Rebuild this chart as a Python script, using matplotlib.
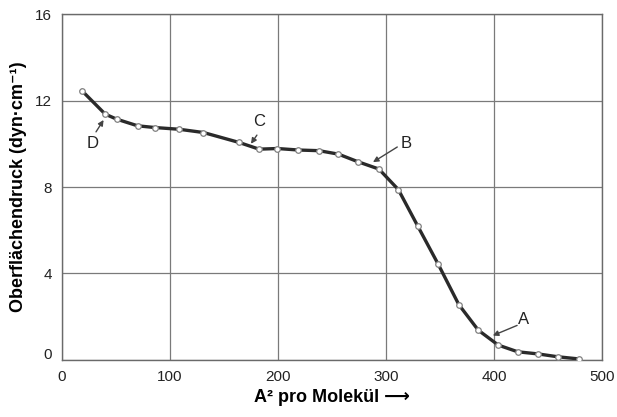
import matplotlib
matplotlib.use("Agg")
import matplotlib.pyplot as plt
import matplotlib.transforms as mtransforms

plt.rcParams['font.family'] = ['Liberation Sans', 'DejaVu Sans']

# Messpunkte
flaeche = [18.5, 40, 50.5, 70, 86, 108.5, 131, 164, 182.5, 199.5, 219, 238, 256,
           274, 293.5, 311.5, 329.5, 348.5, 367.5, 385.5, 404, 422, 441, 459, 478.5]
druck = [12.45, 11.37, 11.14, 10.83, 10.75, 10.67, 10.52, 10.06, 9.75, 9.78, 9.71,
         9.68, 9.52, 9.17, 8.83, 7.88, 6.19, 4.42, 2.56, 1.38, 0.69, 0.38, 0.28,
         0.15, 0.05]

# Markierungen A-D: Text, Pfeilanfang, Pfeilspitze
marken = ['D', 'C', 'B', 'A']
text_xy = [(28.5, 10.0), (183, 11.05), (319, 10.0), (427, 1.85)]
anfang_xy = [(31.5, 10.55), (180.5, 10.4), (310.5, 9.85), (421.5, 1.6)]
spitze_xy = [(38.5, 11.1), (175, 10.0), (288, 9.15), (399, 1.13)]

xticks = [0, 100, 200, 300, 400, 500]
yticks = [0, 4, 8, 12, 16]

fig = plt.figure(figsize=(6.17, 4.17), dpi=100)
ax = fig.add_axes([0.1005, 0.1367, 0.875, 0.8297])

ax.plot(flaeche, druck, color='#2a2a2a', lw=2.4, zorder=3)
ax.plot(flaeche, druck, 'o', ms=4, mfc='white', mec='#808080', mew=0.9, zorder=4)

for m, t, a, s in zip(marken, text_xy, anfang_xy, spitze_xy):
    ax.text(t[0], t[1], m, fontsize=12, color='#222222', ha='center', va='center')
    ax.annotate('', xy=s, xytext=a,
                arrowprops=dict(arrowstyle='-|>', color='#444444', lw=1.0,
                                mutation_scale=8, shrinkA=0, shrinkB=0))

ax.set_xlim(0, 500)
ax.set_ylim(0, 16)
ax.set_xticks(xticks)
ax.set_yticks(yticks)
ax.grid(True, color='#7a7a7a', lw=0.9)
ax.set_axisbelow(True)
for sp in ax.spines.values():
    sp.set_color('#6a6a6a')
    sp.set_linewidth(1.0)
ax.tick_params(length=0, labelsize=11, colors='#222222', pad=7)

# die Null an der y-Achse etwas hoeher wie im Original
yl = ax.get_yticklabels()
yl[0].set_transform(yl[0].get_transform() + mtransforms.ScaledTranslation(0, 0.06, fig.dpi_scale_trans))

ax.set_xlabel('A² pro Molekül ⟶', fontsize=13, fontweight='bold', labelpad=4)
ax.set_ylabel('Oberflächendruck (dyn·cm⁻¹)', fontsize=13, fontweight='bold', labelpad=6)

fig.savefig('out.png', dpi=100)
